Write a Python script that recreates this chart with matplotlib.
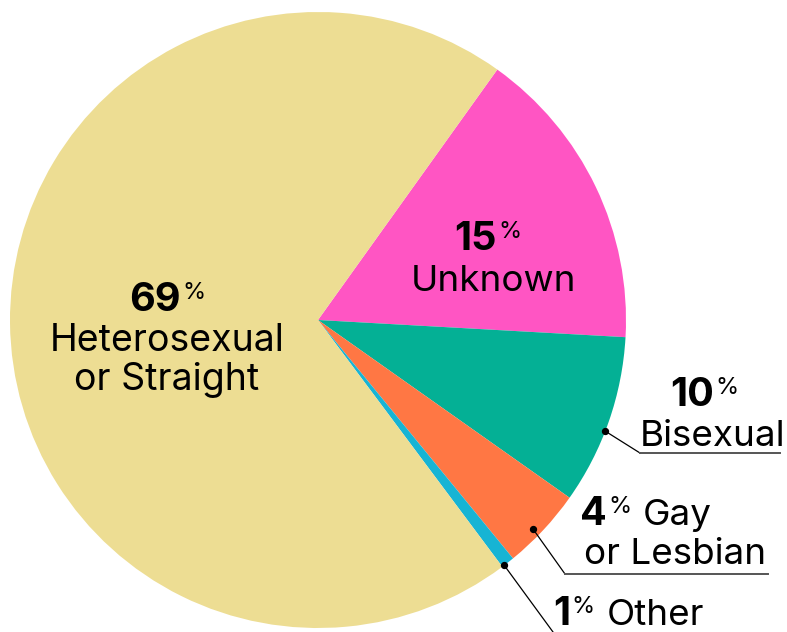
import matplotlib
matplotlib.use('Agg')
import matplotlib.pyplot as plt

# slice data, clockwise from the top-right boundary
labels = ['Unknown', 'Bisexual', 'Gay or Lesbian', 'Other', 'Heterosexual or Straight']
shares = [16.0, 8.9, 4.3, 0.7, 70.1]        # as drawn
printed = ['15', '10', '4', '1', '69']      # as labelled
colors = ['#FF55C3', '#04B095', '#FF7744', '#17B4D4', '#EDDD93']

W, H = 787, 632
plt.rcParams['font.family'] = ['Inter', 'DejaVu Sans']

fig = plt.figure(figsize=(W / 100, H / 100), dpi=100)
ax = fig.add_axes([0, 0, 1, 1])

ax.pie(shares, colors=colors, startangle=54.4, counterclock=False,
       center=(318, H - 320), radius=308, frame=True,
       wedgeprops=dict(linewidth=0))
ax.set_xlim(0, W)
ax.set_ylim(0, H)
ax.set_aspect('equal')
ax.axis('off')


def Y(y):
    return H - y


def pct(x_right, base, num, size=28.5, psize=17):
    ax.text(x_right, Y(base), num, ha='right', va='baseline',
            fontsize=size, fontweight='bold', color='black')
    ax.text(x_right + 1, Y(base - 12), '%', ha='left', va='baseline',
            fontsize=psize, color='black')


def word(x, base, s, ha='center', size=26.5):
    ax.text(x, Y(base), s, ha=ha, va='baseline', fontsize=size, color='black')


# heterosexual
pct(181, 311, printed[4])
word(167, 351, 'Heterosexual', size=27)
word(167, 390, 'or Straight', size=27)

# unknown
pct(497, 250, printed[0])
word(493, 291, 'Unknown')

# bisexual
pct(714, 406, printed[1])
word(640, 446, 'Bisexual', ha='left')

# gay or lesbian
pct(607, 525, printed[2])
word(643, 525, 'Gay', ha='left')
word(584, 564, 'or Lesbian', ha='left')

# other
pct(570, 625, printed[3])
word(607, 625, 'Other', ha='left')

# leader lines
lines = [
    [(605, 431), (640, 453), (780, 453)],
    [(533, 529), (565, 574), (768, 574)],
    [(504, 565), (553, 632)],
]
for pts in lines:
    xs = [p[0] for p in pts]
    ys = [Y(p[1]) for p in pts]
    ax.plot(xs[:2], ys[:2], color='black', lw=0.9)
    if len(pts) > 2:
        ax.plot(xs[1:], ys[1:], color='#555555', lw=1.4)
    ax.scatter([xs[0]], [ys[0]], s=18, color='black', zorder=5)

fig.savefig('out.png', dpi=100)
